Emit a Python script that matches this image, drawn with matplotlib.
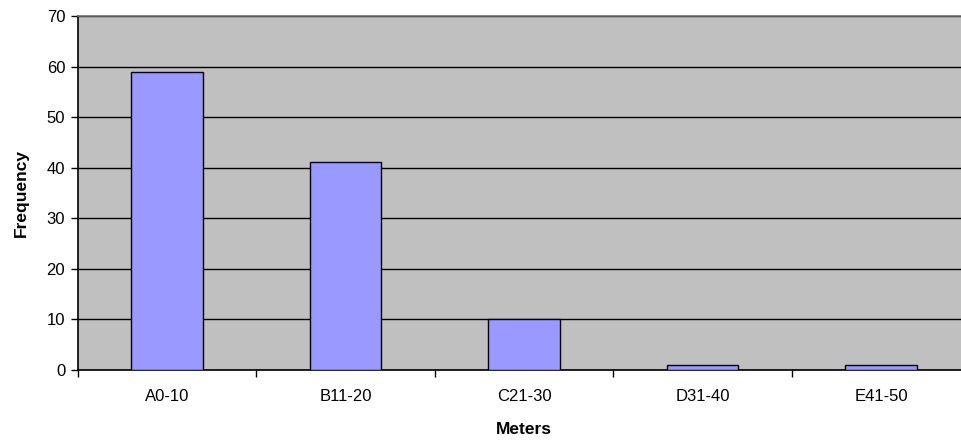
import numpy as np
import matplotlib
matplotlib.use("Agg")
import matplotlib.pyplot as plt

categories = ["A0-10", "B11-20", "C21-30", "D31-40", "E41-50"]
frequency = [59, 41, 10, 1, 1]

plt.rcParams['font.family'] = ['Liberation Sans', 'DejaVu Sans']

fig = plt.figure(figsize=(9.61, 4.41), dpi=100)
# plot area runs a little past the right edge, as in the reference
ax = fig.add_axes([0.0809, 0.162, 0.9287, 0.8017])
ax.set_facecolor("#C0C0C0")

x = np.arange(len(categories))
ax.bar(x, frequency, width=0.4, color="#9999FF", edgecolor="black", linewidth=1, zorder=3)

ax.set_xlim(-0.5, len(categories) - 0.5)
ax.set_ylim(0, 70)
ax.set_yticks(range(0, 71, 10))
ax.yaxis.grid(True, color="black", linewidth=1, zorder=1)
ax.set_axisbelow(True)

ax.set_xticks(x)
ax.set_xticklabels(categories, fontsize=12)
ax.set_xticks(np.arange(-0.5, len(categories), 1.0), minor=True)
ax.tick_params(axis="x", which="major", length=0, pad=14)
ax.tick_params(axis="x", which="minor", length=5, width=1, color="black", direction="out")
ax.tick_params(axis="y", length=5, width=1, labelsize=12, direction="out", pad=4)

for s in ["top", "right"]:
    ax.spines[s].set_color("#707070")
    ax.spines[s].set_linewidth(1.2)
for s in ["left", "bottom"]:
    ax.spines[s].set_color("black")
    ax.spines[s].set_linewidth(1.2)

ax.set_xlabel("Meters", fontsize=12.5, fontweight="bold", labelpad=13)
ax.set_ylabel("Frequency", fontsize=12.5, fontweight="bold", labelpad=13)

fig.savefig("out.png", dpi=100)
